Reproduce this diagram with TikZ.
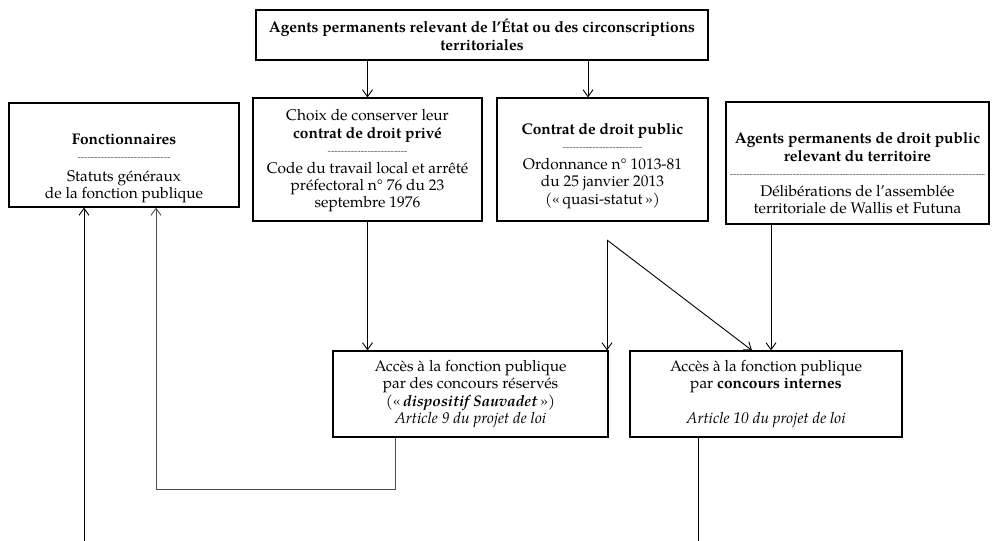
\documentclass[tikz,border=0pt]{standalone}
\usepackage{fontspec}
\setmainfont{TeX Gyre Pagella}
\usetikzlibrary{arrows.meta}
\newcommand\sepdash[1]{\textcolor{black!65}{\fontsize{10}{10}\selectfont\raisebox{1.5bp}{\foreach\k in {1,...,#1}{\hbox{-}}}}}
\begin{document}
\begin{tikzpicture}[x=1bp,y=-1bp,
  box/.style={draw, line width=1.1bp, align=center, inner sep=0pt, font=\fontsize{15.5}{17.5}\selectfont},
  conn/.style={line width=0.9bp, -{Straight Barb[length=7bp,width=10bp]}},
  thinconn/.style={line width=0.6bp, draw=black!70, -{Straight Barb[length=7bp,width=10bp,line width=0.9bp]}},
  plainline/.style={line width=1bp}]
\useasboundingbox (0,0) rectangle (993,541);
\node[box, minimum width=452bp, minimum height=50bp] (top) at (482,35)
  {\rule{0pt}{12bp}\textbf{Agents permanents relevant de l’État ou des circonscriptions}\\\textbf{territoriales}};
\node[box, minimum width=230bp, minimum height=104bp] (fonc) at (124,155)
  {\rule{0pt}{38bp}\textbf{Fonctionnaires}\\\sepdash{28}\\[2bp]Statuts généraux\\de la fonction publique};
\node[box, minimum width=229bp, minimum height=123bp] (choix) at (367.5,159.5)
  {\rule{0pt}{14bp}Choix de conserver leur\\\textbf{contrat de droit privé}\\\sepdash{24}\\Code du travail local et arrêté\\préfectoral n° 76 du 23\\septembre 1976};
\node[box, minimum width=211bp, minimum height=123bp] (contrat) at (602.5,159.5)
  {\rule{0pt}{24bp}\textbf{Contrat de droit public}\\\sepdash{24}\\Ordonnance n° 1013-81\\du 25 janvier 2013\\(«\,quasi-statut\,»)};
\node[box, minimum width=263bp, minimum height=122bp] (terr) at (857.5,163)
  {\rule{0pt}{32bp}\textbf{Agents permanents de droit public}\\\textbf{relevant du territoire}\\\sepdash{77}\\Délibérations de l’assemblée\\territoriale de Wallis et Futuna};
\node[box, minimum width=275bp, minimum height=86bp] (sauv) at (470.5,394)
  {Accès à la fonction publique\\par des concours réservés\\(«\,\textbf{\textit{dispositif Sauvadet}}\,»)\\\textit{Article 9 du projet de loi}};
\node[box, minimum width=272bp, minimum height=86bp] (intern) at (766,394)
  {Accès à la fonction publique\\par \textbf{concours internes}\\ \\\textit{Article 10 du projet de loi}};
\coordinate (ca) at (588,0);
\coordinate (sp) at (607,240);
\coordinate (cd) at (752,0);
\coordinate (ct) at (771,0);
\coordinate (cs) at (395,0);
\coordinate (lp) at (156,489);
\coordinate (bl) at (84,541);
\coordinate (br) at (698,541);
\draw[conn] (top.south -| choix.north) -- (choix.north);
\draw[conn] (top.south -| ca) -- (contrat.north -| ca);
\draw[conn] (choix.south) -- (choix.south |- sauv.north);
\draw[conn] (sp) -- (sp |- sauv.north);
\draw[conn] (sp) -- (intern.north -| cd);
\draw[conn] (terr.south -| ct) -- (intern.north -| ct);
\draw[thinconn] (sauv.south -| cs) |- (lp) -- (fonc.south -| lp);
\draw[conn] (bl) -- (fonc.south -| bl);
\draw[plainline] (intern.south -| br) -- (br);
\end{tikzpicture}
\end{document}
